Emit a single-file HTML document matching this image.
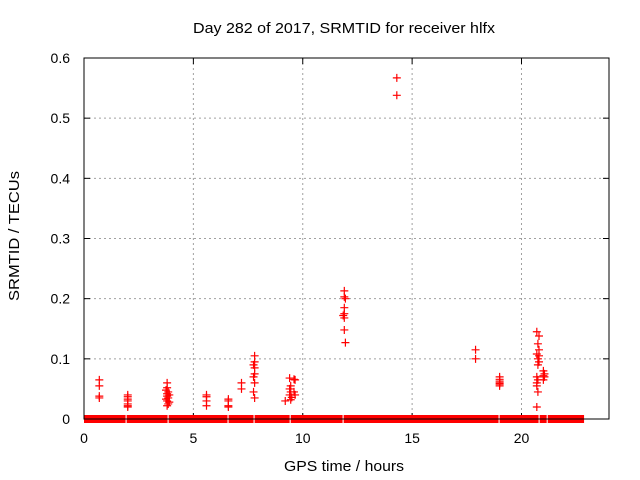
<!DOCTYPE html>
<html><head><meta charset="utf-8"><style>
body{margin:0;background:#fff}
svg{display:block;font-family:"Liberation Sans",sans-serif}
</style></head><body>
<svg id="c" width="640" height="480" xmlns="http://www.w3.org/2000/svg">
<text x="193" y="33" font-size="15" textLength="302" lengthAdjust="spacingAndGlyphs">Day 282 of 2017, SRMTID for receiver hlfx</text>
<text x="284" y="471" font-size="15" textLength="120" lengthAdjust="spacingAndGlyphs">GPS time / hours</text>
<text transform="translate(19,301) rotate(-90)" font-size="15" textLength="130" lengthAdjust="spacingAndGlyphs">SRMTID / TECUs</text>
<g id="grid"></g><g id="marks"></g>
<rect x="84" y="58" width="525" height="361" fill="none" stroke="#000" stroke-width="1"/>
</svg>
<script>
const xTicks=[0,5,10,15,20];
const yTicks=[0,0.1,0.2,0.3,0.4,0.5,0.6];
const yTickLabels=["0","0.1","0.2","0.3","0.4","0.5","0.6"];
const zeroSegments=[[0,1.9],[1.95,3.82],[3.87,6.56],[6.61,7.75],[7.8,9.4],[9.45,11.82],[11.87,18.95],[19.0,20.78],[20.83,21.15],[21.2,22.86]];
const pointHours=[0.7,0.7,0.7,0.7,
2,2,2,2,2,2,2,
3.8,3.8,3.75,3.85,3.8,3.9,3.8,3.85,3.75,3.8,3.9,3.85,3.8,
5.6,5.6,5.6,5.6,
6.6,6.6,6.6,6.6,
7.2,7.2,
7.8,7.8,7.75,7.8,7.8,7.75,7.8,7.75,7.8,
9.2,9.4,9.45,9.4,9.45,9.4,9.5,9.45,9.6,9.65,9.6,9.65,
11.9,11.9,11.95,11.9,11.9,11.85,11.9,11.9,11.95,
14.3,14.3,
17.9,17.9,
19,19,19,19,19,19,
20.7,20.8,20.75,20.8,20.7,20.8,20.75,20.8,20.75,20.7,20.75,20.7,20.7,20.75,20.7,
21,21.05,21,21.05,21];
const pointValues=[0.065,0.055,0.038,0.035,
0.040,0.037,0.033,0.030,0.025,0.022,0.020,
0.060,0.052,0.048,0.045,0.042,0.040,0.038,0.035,0.033,0.030,0.028,0.025,0.022,
0.040,0.037,0.030,0.022,
0.033,0.030,0.022,0.020,
0.060,0.050,
0.105,0.095,0.090,0.085,0.075,0.070,0.060,0.045,0.035,
0.030,0.068,0.055,0.050,0.045,0.040,0.036,0.032,0.066,0.065,0.045,0.040,
0.213,0.203,0.200,0.185,0.175,0.172,0.168,0.148,0.127,
0.567,0.538,
0.115,0.100,
0.070,0.066,0.063,0.060,0.058,0.055,
0.145,0.138,0.125,0.115,0.108,0.105,0.100,0.095,0.090,0.070,0.065,0.060,0.055,0.045,0.020,
0.080,0.075,0.072,0.070,0.065];
const X0=84,X1=609,Y0=419,Y1=58,XMAX=24,YMAX=0.6;
const sx=h=>X0+h/XMAX*(X1-X0), sy=v=>Y0-v/YMAX*(Y0-Y1);
const NS="http://www.w3.org/2000/svg";
const grid=document.getElementById('grid'),marks=document.getElementById('marks');
function mk(tag,attrs,parent){const e=document.createElementNS(NS,tag);for(const k in attrs)e.setAttribute(k,attrs[k]);parent.appendChild(e);return e;}
xTicks.forEach(t=>{const x=sx(t);
 if(t>0){const g=mk('line',{x1:x,x2:x,y1:Y1,y2:Y0,stroke:'#a0a0a0','stroke-dasharray':'2,3'},grid);
 
 }
 mk('line',{x1:x,x2:x,y1:Y0,y2:Y0-6,stroke:'#000'},grid);mk('line',{x1:x,x2:x,y1:Y1,y2:Y1+6,stroke:'#000'},grid);
 const l=mk('text',{x:x,y:Y0+24,'text-anchor':'middle','font-size':14},grid);l.textContent=t;
 
 });
yTicks.forEach((t,i)=>{const y=sy(t);
 if(t>0&&t<YMAX){const g=mk('line',{x1:X0,x2:X1,y1:y,y2:y,stroke:'#a0a0a0','stroke-dasharray':'2,3'},grid);
 
 }
 mk('line',{x1:X0,x2:X0+6,y1:y,y2:y,stroke:'#000'},grid);mk('line',{x1:X1,x2:X1-6,y1:y,y2:y,stroke:'#000'},grid);
 const l=mk('text',{x:X0-14,y:y+5,'text-anchor':'end','font-size':14},grid);l.textContent=yTickLabels[i];
 
 });
zeroSegments.forEach(s=>{const r=mk('rect',{x:sx(s[0]),y:sy(0)-4,width:sx(s[1])-sx(s[0]),height:8,fill:'#ff0000'},marks);
 
 });
pointHours.forEach((h,i)=>{const x=sx(h),y=sy(pointValues[i]);
 const p=mk('path',{d:`M${x-4} ${y}H${x+4}M${x} ${y-4}V${y+4}`,stroke:'#ff0000','stroke-width':1.2,fill:'none'},marks);
 
 });
</script>
</body></html>
